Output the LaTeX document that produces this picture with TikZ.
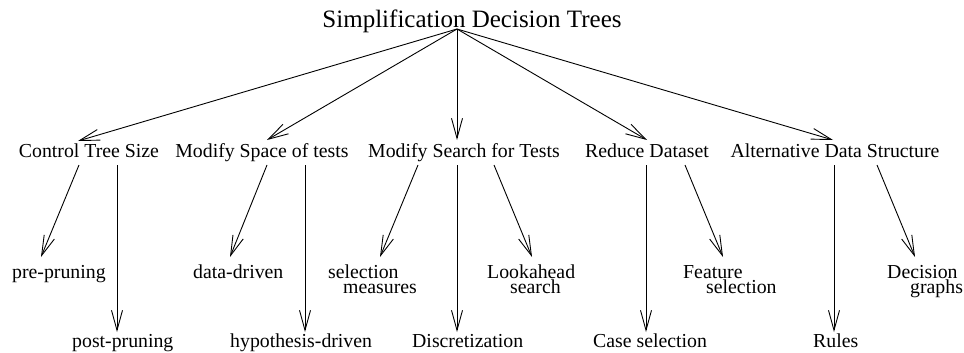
\documentclass[tikz,border=0pt]{standalone}
\usepackage{fontspec}
\setmainfont{Liberation Serif}
\usetikzlibrary{arrows.meta}
\begin{document}
\begin{tikzpicture}[x=1pt,y=-1pt,
  lbl/.style={inner sep=0pt, font=\fontsize{19.8}{15}\selectfont, align=left},
  ttl/.style={inner sep=0pt, font=\fontsize{25}{30}\selectfont},
  arr/.style={line width=0.9pt, -{Straight Barb[length=20pt,width=11pt]}}]
\useasboundingbox (0,0) rectangle (964,353);
% title
\node[ttl, anchor=base] (root) at (472,27.5) {Simplification Decision Trees};
\coordinate (r) at (457,29);
% level 1
\node[lbl, anchor=base] (cts) at (89,157) {Control Tree Size};
\node[lbl, anchor=base] (mst) at (262,157) {Modify Space of tests};
\node[lbl, anchor=base] (msf) at (464,157) {Modify Search for Tests};
\node[lbl, anchor=base] (rd)  at (647,157) {Reduce Dataset};
\node[lbl, anchor=base] (ads) at (835,157) {Alternative Data Structure};
\coordinate (t1) at (78,141);
\coordinate (t2) at (267,140);
\coordinate (t3) at (457,140);
\coordinate (t4) at (647,140);
\coordinate (t5) at (833,140);
\foreach \t in {t1,t2,t3,t4,t5} \draw[arr] (r) -- (\t);
% level 2 labels
\node[lbl, anchor=base west] (pre) at (12,278) {pre-pruning};
\node[lbl, anchor=base west] (post) at (72,347) {post-pruning};
\node[lbl, anchor=base west] (dd) at (193,278) {data-driven};
\node[lbl, anchor=base west] (hd) at (230,347) {hypothesis-driven};
\node[lbl, anchor=base west] (sm) at (328,293) {selection\\\hspace*{15pt}measures};
\node[lbl, anchor=base west] (disc) at (412,347) {Discretization};
\node[lbl, anchor=base west] (la) at (487,293) {Lookahead\\\hspace*{23pt}search};
\node[lbl, anchor=base west] (cs) at (593,347) {Case selection};
\node[lbl, anchor=base west] (fs) at (683,293) {Feature\\\hspace*{23pt}selection};
\node[lbl, anchor=base west] (rules) at (813,347) {Rules};
\node[lbl, anchor=base west] (dg) at (887,293) {Decision\\\hspace*{23pt}graphs};
% level 2 arrows
\coordinate (s1) at (79,165);  \coordinate (e1) at (41,257);
\coordinate (s2) at (117,165); \coordinate (e2) at (117,332);
\coordinate (s3) at (267,165); \coordinate (e3) at (230,257);
\coordinate (s4) at (305,165); \coordinate (e4) at (305,332);
\coordinate (s5) at (418,165); \coordinate (e5) at (380,257);
\coordinate (s6) at (457,165); \coordinate (e6) at (457,332);
\coordinate (s7) at (494,165); \coordinate (e7) at (532,257);
\coordinate (s8) at (646,165); \coordinate (e8) at (646,332);
\coordinate (s9) at (685,165); \coordinate (e9) at (723,257);
\coordinate (s10) at (834,165); \coordinate (e10) at (834,332);
\coordinate (s11) at (877,165); \coordinate (e11) at (915,257);
\foreach \i in {1,...,11} \draw[arr] (s\i) -- (e\i);
\end{tikzpicture}
\end{document}
